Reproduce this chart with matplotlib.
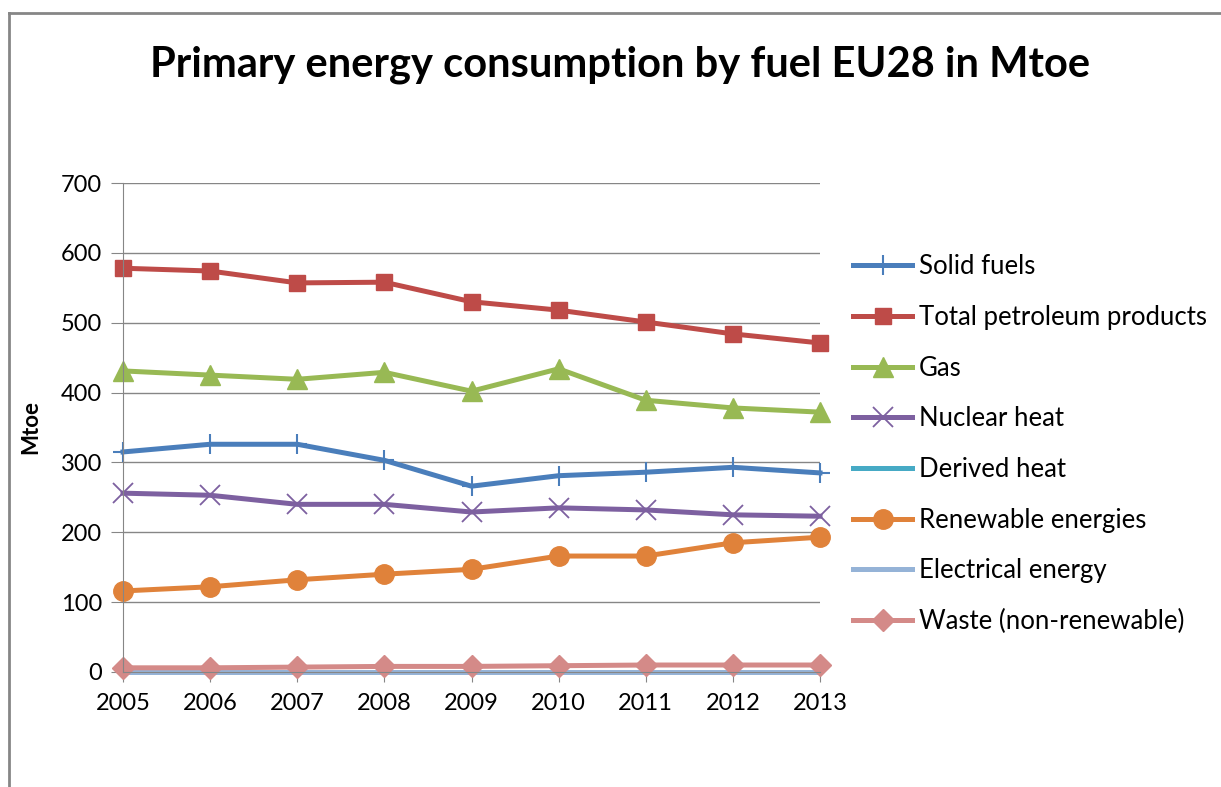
import matplotlib
matplotlib.use("Agg")
import matplotlib.pyplot as plt
from matplotlib.lines import Line2D

plt.rcParams["font.family"] = ["Lato", "DejaVu Sans"]

years = [2005, 2006, 2007, 2008, 2009, 2010, 2011, 2012, 2013]

solid_fuels = [315, 326, 326, 303, 266, 281, 286, 293, 285]
petroleum = [578, 574, 557, 558, 530, 518, 501, 484, 471]
gas = [431, 425, 419, 429, 402, 434, 389, 378, 372]
nuclear = [256, 253, 240, 240, 229, 235, 232, 225, 223]
derived_heat = [0.5, 0.5, 0.5, 0.5, 0.5, 0.5, 0.5, 0.5, 0.5]
renewables = [116, 122, 132, 140, 147, 166, 166, 185, 193]
electrical = [0.3, 0.3, 0.3, 0.3, 0.3, 0.3, 0.3, 0.3, 0.3]
waste = [6, 6, 7, 8, 8, 9, 10, 10, 10]

series = [
    ("Solid fuels", solid_fuels, "#4A7EBB", dict(marker="+", markersize=15, markeredgewidth=1.5)),
    ("Total petroleum products", petroleum, "#BE4B48", dict(marker="s", markersize=12)),
    ("Gas", gas, "#98B954", dict(marker="^", markersize=15)),
    ("Nuclear heat", nuclear, "#7D60A0", dict(marker="x", markersize=14, markeredgewidth=1.3)),
    ("Derived heat", derived_heat, "#46AAC5", dict(marker=None)),
    ("Renewable energies", renewables, "#E0823A", dict(marker="o", markersize=14)),
    ("Electrical energy", electrical, "#95B3D7", dict(marker=None)),
    ("Waste (non-renewable)", waste, "#D48A88", dict(marker="D", markersize=11)),
]

fig = plt.figure(figsize=(12.21, 7.87), dpi=100)
ax = fig.add_axes([123 / 1221, 1 - 672 / 787, (820 - 123) / 1221, (672 - 183) / 787])

for label, values, color, style in series:
    ax.plot(years, values, color=color, linewidth=3.6, label=label,
            markerfacecolor=color, markeredgecolor=color, clip_on=False, **style)

ax.set_xlim(2005, 2013)
ax.set_ylim(0, 700)
ax.set_yticks(range(0, 701, 100))
ax.set_xticks(years)
ax.grid(axis="y", color="#868686", linewidth=1.0)
ax.set_axisbelow(True)
for side in ["top", "right"]:
    ax.spines[side].set_visible(False)
for side in ["left", "bottom"]:
    ax.spines[side].set_color("#868686")
ax.tick_params(axis="y", length=9, color="#868686", labelsize=17, pad=6)
ax.tick_params(axis="x", length=7, color="#868686", labelsize=17, pad=8)
ax.set_ylabel("Mtoe", fontsize=16, fontweight="bold", labelpad=14)

ax.legend(loc="upper left", bbox_to_anchor=(843 / 1221, 1 - 244 / 787),
          bbox_transform=fig.transFigure, frameon=False, fontsize=18.5,
          handlelength=2.3, handletextpad=0.25, labelspacing=1.0, borderaxespad=0)

fig.text(0.508, 1 - 65 / 787, "Primary energy consumption by fuel EU28 in Mtoe",
         ha="center", va="center", fontsize=30, fontweight="bold")

# chart border (top and left edges visible in the screenshot)
fig.add_artist(Line2D([9 / 1221, 1.0], [1 - 13 / 787, 1 - 13 / 787],
                      transform=fig.transFigure, color="#868686", linewidth=2))
fig.add_artist(Line2D([9 / 1221, 9 / 1221], [0, 1 - 13 / 787],
                      transform=fig.transFigure, color="#868686", linewidth=2))

fig.savefig("out.png", dpi=100)
